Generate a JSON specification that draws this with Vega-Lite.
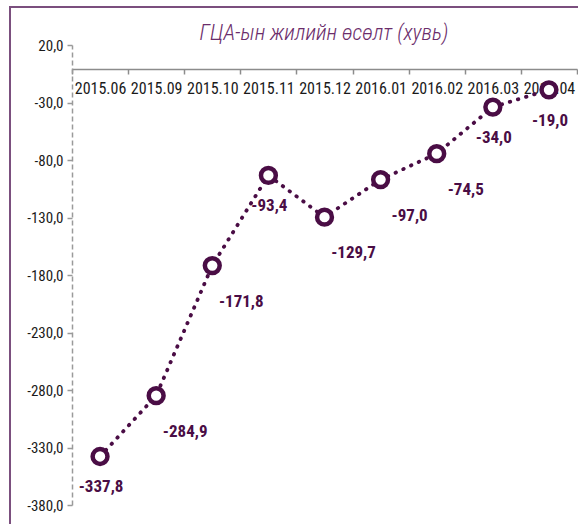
{
  "$schema": "https://vega.github.io/schema/vega-lite/v6.json",
  "width": 580,
  "height": 520,
  "autosize": {"type": "none"},
  "padding": {"left": 10, "top": 7, "right": 0, "bottom": 0},
  "background": "white",
  "title": {
    "text": "ГЦА-ын жилийн өсөлт (хувь)",
    "anchor": "middle",
    "frame": "group",
    "dx": 24,
    "offset": -38,
    "font": "Liberation Sans Narrow, Roboto Condensed, DejaVu Sans Condensed, sans-serif",
    "fontSize": 22,
    "fontStyle": "italic",
    "fontWeight": 300,
    "color": "#6b2d6b"
  },
  "config": {
    "view": {"stroke": "#7b4f7e", "strokeWidth": 2},
    "locale": {
      "number": {"decimal": ",", "thousands": " ", "grouping": [3], "currency": ["", ""], "minus": "-"}
    }
  },
  "data": {
    "values": [
      {"month": "2015.06", "value": -337.8},
      {"month": "2015.09", "value": -284.9},
      {"month": "2015.10", "value": -171.8},
      {"month": "2015.11", "value": -93.4},
      {"month": "2015.12", "value": -129.7},
      {"month": "2016.01", "value": -97.0},
      {"month": "2016.02", "value": -74.5},
      {"month": "2016.03", "value": -34.0},
      {"month": "2016.04", "value": -19.0}
    ]
  },
  "encoding": {
    "x": {
      "field": "month",
      "type": "ordinal",
      "sort": null,
      "scale": {"range": [62, 567], "paddingInner": 0, "paddingOuter": 0},
      "axis": {
        "orient": "bottom",
        "offset": -458,
        "title": null,
        "labelAngle": 0,
        "labelOverlap": false,
        "domainColor": "#8c8c8c",
        "domainWidth": 1.5,
        "tickColor": "#8c8c8c",
        "tickWidth": 1.5,
        "tickSize": 5,
        "tickBand": "extent",
        "labelFont": "Liberation Sans Narrow, Roboto Condensed, DejaVu Sans Condensed, sans-serif",
        "labelFontSize": 16,
        "labelColor": "#1a1a1a",
        "labelPadding": 6,
        "grid": false
      }
    },
    "y": {
      "field": "value",
      "type": "quantitative",
      "scale": {"domain": [-380, 20], "range": [498, 38], "zero": false, "nice": false},
      "axis": {
        "orient": "left",
        "offset": -62,
        "title": null,
        "values": [20, -30, -80, -130, -180, -230, -280, -330, -380],
        "format": ".1f",
        "grid": false,
        "domainDash": [5, 3],
        "domainColor": "#9a9a9a",
        "domainWidth": 1.5,
        "tickColor": "#9a9a9a",
        "tickWidth": 1.5,
        "tickSize": 5,
        "labelFont": "Liberation Sans Narrow, Roboto Condensed, DejaVu Sans Condensed, sans-serif",
        "labelFontSize": 15,
        "labelColor": "#1a1a1a",
        "labelPadding": 4
      }
    }
  },
  "layer": [
    {
      "mark": {"type": "line", "color": "#4a0d45", "strokeWidth": 3.8, "strokeDash": [0.5, 8], "strokeCap": "round"}
    },
    {
      "mark": {"type": "point", "shape": "circle", "filled": true, "fill": "white", "stroke": "#4a0d45", "strokeWidth": 4.5, "size": 220, "opacity": 1}
    },
    {
      "transform": [{"filter": {"field": "month", "oneOf": ["2015.09", "2015.10", "2015.12", "2016.01", "2016.02"]}}],
      "mark": {"type": "text", "dx": 29, "dy": 36, "font": "Liberation Sans Narrow, Roboto Condensed, DejaVu Sans Condensed, sans-serif", "fontSize": 17, "fontWeight": "bold", "color": "#4a0d45"},
      "encoding": {"text": {"field": "value", "type": "quantitative", "format": ".1f"}}
    },
    {
      "transform": [{"filter": {"field": "month", "oneOf": ["2015.06", "2015.11", "2016.03", "2016.04"]}}],
      "mark": {"type": "text", "dx": 1, "dy": 31, "font": "Liberation Sans Narrow, Roboto Condensed, DejaVu Sans Condensed, sans-serif", "fontSize": 17, "fontWeight": "bold", "color": "#4a0d45"},
      "encoding": {"text": {"field": "value", "type": "quantitative", "format": ".1f"}}
    }
  ]
}
